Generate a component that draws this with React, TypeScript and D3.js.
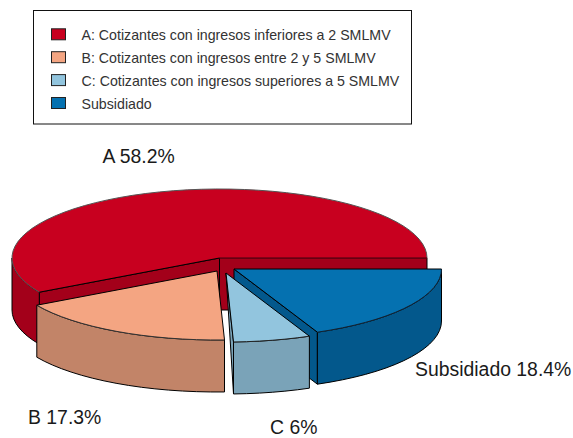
import React from "react";
import * as d3 from "d3";

const categories = ["A", "B", "C", "Subsidiado"];
const values = [58.2, 17.3, 6, 18.4];
const sliceLabels = ["A 58.2%", "B 17.3%", "C 6%", "Subsidiado 18.4%"];
const legendLabels = [
  "A: Cotizantes con ingresos inferiores a 2 SMLMV",
  "B: Cotizantes con ingresos entre 2 y 5 SMLMV",
  "C: Cotizantes con ingresos superiores a 5 SMLMV",
  "Subsidiado",
];
const topColors = ["#C8001F", "#F4A582", "#92C5DE", "#0571B0"];
const sideColors = ["#A3001A", "#C28468", "#7AA3B8", "#03588C"];
const rimColors = ["#555", "#333", "#222", "#123"];
const centers: [number, number][] = [[219.5, 258], [217, 271], [226, 273], [234, 269]];
const labelPos: [number, number][] = [[102.5, 163], [28, 424], [270, 433.7], [415, 376]];
const drawOrder = [0, 3, 1, 2];

const RX = 207.5, RY = 69, DEPTH = 52;
const FONT = "'Liberation Sans', Arial, sans-serif";

const pieGen = d3.pie<number>().sort(null).startAngle(0).endAngle(2 * Math.PI);
const arcs = pieGen(values);

const px = d3.scaleLinear().domain([-1, 1]).range([-RX, RX]);
const py = d3.scaleLinear().domain([-1, 1]).range([RY, -RY]);
const line = d3.line<[number, number]>();

function rim(i: number, from: number, to: number, dy = 0): [number, number][] {
  const [cx, cy] = centers[i];
  const n = Math.max(2, Math.ceil(Math.abs(to - from) / 0.07));
  return d3.range(n + 1).map((k) => {
    const a = from + ((to - from) * k) / n;
    return [cx + px(Math.cos(a)), cy + py(Math.sin(a)) + dy] as [number, number];
  });
}

function Slice({ i }: { i: number }) {
  const { startAngle: s, endAngle: e } = arcs[i];
  const [cx, cy] = centers[i];
  const top = rim(i, s, e);
  const apex: [number, number] = [cx, cy];
  const first = top[0];
  const last = top[top.length - 1];
  const common = { stroke: "#000", strokeWidth: 1, strokeLinejoin: "round" as const };

  const nearFrom = Math.max(s, Math.PI);
  const nearTo = Math.min(e, 2 * Math.PI);
  const outer = nearTo > nearFrom
    ? [...rim(i, nearFrom, nearTo), ...rim(i, nearFrom, nearTo, DEPTH).reverse()]
    : null;

  let walls: [number, number][][] = [];
  if (i === 0) {
    walls = [
      [apex, last, [last[0], last[1] + DEPTH], [cx, cy + DEPTH]],
      [apex, first, [first[0], first[1] + DEPTH], [cx, cy + DEPTH]],
    ];
  } else if (i === 2) {
    walls = [[apex, first, [first[0], first[1] + DEPTH]]];
  } else if (i === 3) {
    walls = [[apex, first, [first[0], first[1] + DEPTH], [cx, cy + DEPTH]]];
  }

  return (
    <g>
      {walls.map((w, k) => (
        <path key={k} d={line(w) + "Z"} fill={sideColors[i]} {...common} />
      ))}
      {outer && <path d={line(outer) + "Z"} fill={sideColors[i]} {...common} />}
      <path d={line([apex, ...top]) + "Z"} fill={topColors[i]} stroke="none" />
      <path d={line(top)!} fill="none" stroke={rimColors[i]} strokeWidth={1} />
      <path
        d={line([first, apex])!}
        fill="none"
        stroke={i === 0 ? "#6E0014" : "#000"}
        strokeWidth={i === 0 ? 1.6 : 1}
      />
      <path d={line([apex, last])!} fill="none" stroke="#000" strokeWidth={1} />
    </g>
  );
}

export default function App() {
  const legendY = d3.scalePoint<number>().domain(d3.range(categories.length)).range([34.3, 103]);
  return (
    <svg
      width={573}
      height={438}
      style={{ position: "absolute", left: 0, top: 0, background: "#fff" }}
    >
      <rect x={33.5} y={10.5} width={378} height={113.5} fill="#fff" stroke="#111" strokeWidth={1} />
      {categories.map((c, i) => (
        <g key={c}>
          <rect
            x={51.5}
            y={legendY(i)! - 5.5}
            width={14}
            height={11}
            fill={topColors[i]}
            stroke="#222"
            strokeWidth={1}
          />
          <text x={81.5} y={legendY(i)! + 6} fontFamily={FONT} fontSize={14.2} fill="#333">
            {legendLabels[i]}
          </text>
        </g>
      ))}
      {drawOrder.map((i) => (
        <Slice key={i} i={i} />
      ))}
      {sliceLabels.map((t, i) => (
        <text
          key={t}
          x={labelPos[i][0]}
          y={labelPos[i][1]}
          fontFamily={FONT}
          fontSize={19.4}
          fill="#1a1a1a"
        >
          {t}
        </text>
      ))}
    </svg>
  );
}
